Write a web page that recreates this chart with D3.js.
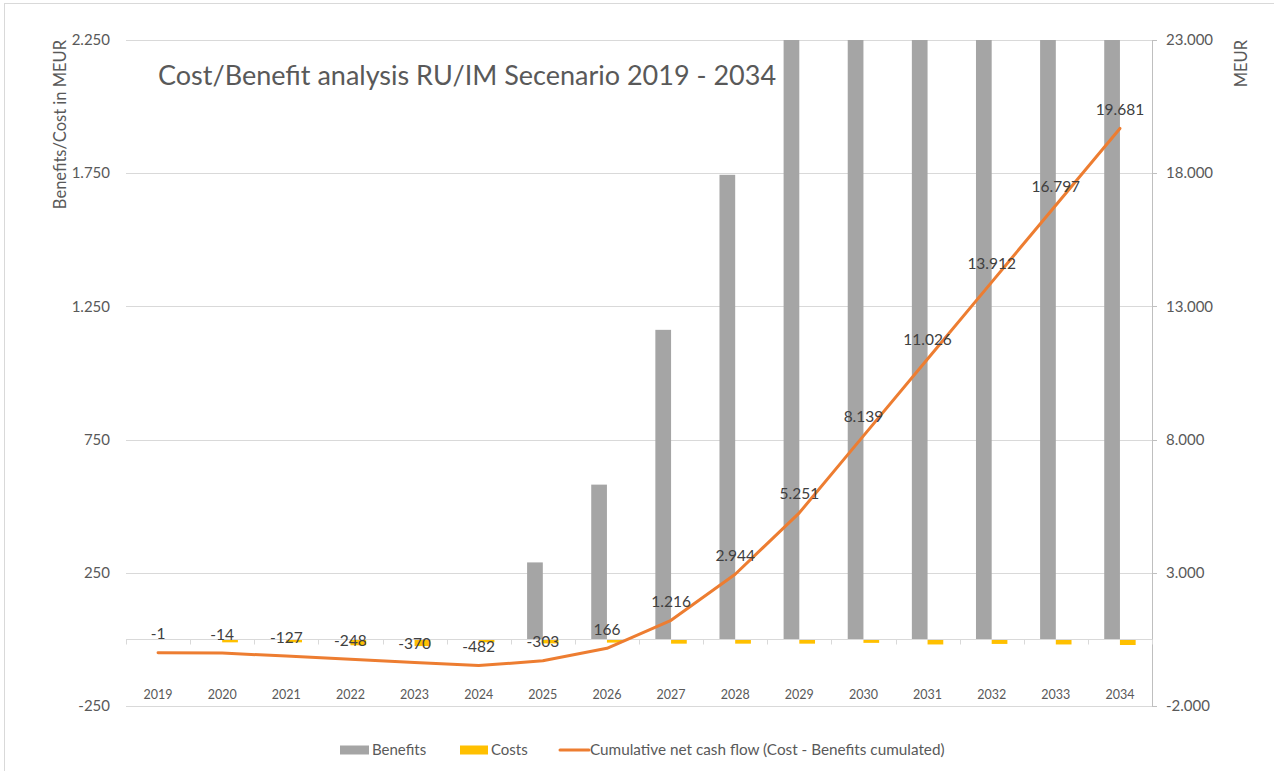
<!DOCTYPE html>
<html>
<head>
<meta charset="utf-8">
<script src="https://cdn.jsdelivr.net/npm/d3@7"></script>
<style>
  html, body { margin: 0; padding: 0; background: #ffffff; }
  svg { display: block; font-family: Lato, "Open Sans", sans-serif; }
</style>
</head>
<body>
<svg id="chart" width="1274" height="771"></svg>
<script>
// Years shown on the category axis
const years = ["2019","2020","2021","2022","2023","2024","2025","2026",
               "2027","2028","2029","2030","2031","2032","2033","2034"];

// Yearly benefits (MEUR, left axis)
const benefits = [0, 0, 0, 0, 0, 0, 289, 581, 1162, 1744, 2320, 2900, 2900, 2900, 2900, 2900];

// Yearly costs (MEUR, left axis, negative)
const costs = [-1, -11, -11, -22, -25, -11, -15, -12, -16, -16, -16, -13, -19, -17, -19, -21];

// Cumulative net cash flow (MEUR, right axis)
const cumulative = [-1, -14, -127, -248, -370, -482, -303, 166, 1216, 2944, 5251, 8139, 11026, 13912, 16797, 19681];

// Axis tick values
const leftTicks = [-250, 250, 750, 1250, 1750, 2250];
const rightTicks = [-2000, 3000, 8000, 13000, 18000, 23000];

const seriesNames = ["Benefits", "Costs"];
const colors = { Benefits: "#a5a5a5", Costs: "#ffc000", Cumulative: "#ed7d31" };

const title = "Cost/Benefit analysis RU/IM Secenario 2019 - 2034";
const legendLabels = ["Benefits", "Costs", "Cumulative net cash flow (Cost - Benefits cumulated)"];

const fmt = d3.formatLocale({ decimal: ",", thousands: ".", grouping: [3], currency: ["", " €"], minus: "-" }).format(",d");

const svg = d3.select("#chart");
const W = 1274, H = 771;
const plot = { left: 126, right: 1152, top: 40, bottom: 706 };

svg.append("rect").attr("width", W).attr("height", H).attr("fill", "#ffffff");
// chart frame
svg.append("rect")
  .attr("x", 4.5).attr("y", 3.5).attr("width", 1300).attr("height", 800)
  .attr("fill", "none").attr("stroke", "#d9d9d9").attr("stroke-width", 1);

const x = d3.scaleBand().domain(years).range([plot.left, plot.right])
  .paddingInner(0.51).paddingOuter(0.255);
const xs = d3.scaleBand().domain(seriesNames).range([0, x.bandwidth()]);
const step = x.step();
const yL = d3.scaleLinear().domain([-250, 2250]).range([plot.bottom, plot.top]);
const yR = d3.scaleLinear().domain([-2000, 23000]).range([plot.bottom, plot.top]);

// gridlines
svg.append("g").selectAll("line").data(leftTicks).join("line")
  .attr("x1", plot.left).attr("x2", plot.right)
  .attr("y1", d => Math.round(yL(d)) + 0.5).attr("y2", d => Math.round(yL(d)) + 0.5)
  .attr("stroke", "#d9d9d9").attr("stroke-width", 1);

// left axis labels
svg.append("g").selectAll("text").data(leftTicks).join("text")
  .attr("x", 110).attr("y", d => yL(d)).attr("dy", "0.35em")
  .attr("text-anchor", "end").attr("font-size", 15).attr("fill", "#595959")
  .text(d => fmt(d));

// right axis line + ticks + labels
const gR = svg.append("g");
gR.append("line").attr("x1", plot.right + 0.5).attr("x2", plot.right + 0.5)
  .attr("y1", plot.top).attr("y2", plot.bottom).attr("stroke", "#bfbfbf");
gR.selectAll("line.tk").data(rightTicks).join("line").attr("class", "tk")
  .attr("x1", plot.right).attr("x2", plot.right + 5)
  .attr("y1", d => Math.round(yR(d)) + 0.5).attr("y2", d => Math.round(yR(d)) + 0.5)
  .attr("stroke", "#bfbfbf");
gR.selectAll("text").data(rightTicks).join("text")
  .attr("x", 1166).attr("y", d => yR(d)).attr("dy", "0.35em")
  .attr("text-anchor", "start").attr("font-size", 15).attr("fill", "#595959")
  .text(d => fmt(d));

// axis titles
svg.append("text").attr("transform", `translate(66,${plot.top}) rotate(-90)`)
  .attr("text-anchor", "end").attr("font-size", 16.5).attr("fill", "#595959")
  .text("Benefits/Cost in MEUR");
svg.append("text").attr("transform", `translate(1247,${plot.top}) rotate(-90)`)
  .attr("text-anchor", "end").attr("font-size", 16.5).attr("fill", "#595959")
  .text("MEUR");

// bars
svg.append("clipPath").attr("id", "plotclip").append("rect")
  .attr("x", plot.left).attr("y", plot.top)
  .attr("width", plot.right - plot.left).attr("height", plot.bottom - plot.top);
const gBars = svg.append("g").attr("clip-path", "url(#plotclip)");
const barData = [];
years.forEach((yr, i) => {
  barData.push({ yr, s: "Benefits", v: benefits[i] });
  barData.push({ yr, s: "Costs", v: costs[i] });
});
gBars.selectAll("rect").data(barData.filter(d => d.v !== 0)).join("rect")
  .attr("x", d => x(d.yr) + xs(d.s))
  .attr("width", xs.bandwidth())
  .attr("y", d => Math.min(yL(d.v), yL(0)))
  .attr("height", d => Math.abs(yL(d.v) - yL(0)))
  .attr("fill", d => colors[d.s]);

// category axis at zero
const y0 = Math.round(yL(0)) + 0.5;
svg.append("line").attr("x1", plot.left).attr("x2", plot.right)
  .attr("y1", y0).attr("y2", y0).attr("stroke", "#d9d9d9");
svg.append("g").selectAll("line").data(d3.range(years.length + 1)).join("line")
  .attr("x1", i => Math.round(plot.left + i * step) + 0.5)
  .attr("x2", i => Math.round(plot.left + i * step) + 0.5)
  .attr("y1", y0).attr("y2", y0 + 5).attr("stroke", "#d9d9d9");
svg.append("g").selectAll("text").data(years).join("text")
  .attr("x", d => x(d) + x.bandwidth() / 2).attr("y", 695).attr("dy", "0.35em")
  .attr("text-anchor", "middle").attr("font-size", 12.5).attr("fill", "#595959")
  .text(d => d);

// cumulative line
const cx = (i) => x(years[i]) + x.bandwidth() / 2;
const line = d3.line().x((d, i) => cx(i)).y(d => yR(d));
svg.append("path").datum(cumulative).attr("d", line)
  .attr("fill", "none").attr("stroke", colors.Cumulative).attr("stroke-width", 3)
  .attr("stroke-linejoin", "round").attr("stroke-linecap", "round");

// data labels
svg.append("g").selectAll("text").data(cumulative).join("text")
  .attr("x", (d, i) => cx(i)).attr("y", d => yR(d) - 19).attr("dy", "0.35em")
  .attr("text-anchor", "middle").attr("font-size", 15.5).attr("fill", "#404040")
  .text(d => fmt(d));

// title
svg.append("text").attr("x", 158).attr("y", 85)
  .attr("font-size", 27).attr("fill", "#595959").text(title);

// legend
const lg = svg.append("g");
const ly = 750;
lg.append("rect").attr("x", 340).attr("y", ly - 4.5).attr("width", 29).attr("height", 9).attr("fill", colors.Benefits);
lg.append("text").attr("x", 372).attr("y", ly).attr("dy", "0.35em").attr("font-size", 15).attr("fill", "#595959").text(legendLabels[0]);
lg.append("rect").attr("x", 460).attr("y", ly - 4.5).attr("width", 28).attr("height", 9).attr("fill", colors.Costs);
lg.append("text").attr("x", 491).attr("y", ly).attr("dy", "0.35em").attr("font-size", 15).attr("fill", "#595959").text(legendLabels[1]);
lg.append("line").attr("x1", 560).attr("x2", 589).attr("y1", ly).attr("y2", ly)
  .attr("stroke", colors.Cumulative).attr("stroke-width", 3).attr("stroke-linecap", "round");
lg.append("text").attr("x", 590).attr("y", ly).attr("dy", "0.35em").attr("font-size", 15.3).attr("fill", "#595959").text(legendLabels[2]);
</script>
</body>
</html>
